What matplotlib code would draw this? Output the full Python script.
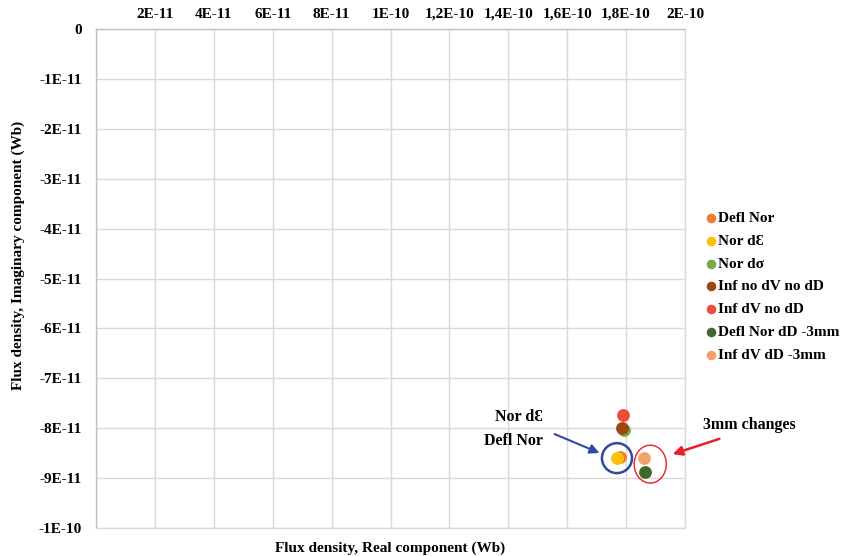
import matplotlib
matplotlib.use("Agg")
import matplotlib.pyplot as plt
from matplotlib.patches import Ellipse
import numpy as np

plt.rcParams['font.family'] = ['Liberation Serif', 'DejaVu Serif']
plt.rcParams['font.weight'] = 'bold'

# Series: name, real component (Wb), imaginary component (Wb), colour
series_names = ["Defl Nor", "Nor d\u0190", "Nor d\u03c3", "Inf no dV no dD",
                "Inf dV no dD", "Defl Nor dD -3mm", "Inf dV dD -3mm"]
real_vals = [1.780e-10, 1.769e-10, 1.793e-10, 1.786e-10, 1.790e-10, 1.865e-10, 1.861e-10]
imag_vals = [-8.58e-11, -8.60e-11, -8.04e-11, -8.00e-11, -7.74e-11, -8.88e-11, -8.60e-11]
colors = ["#ED7D31", "#FFC000", "#70AD47", "#9E480E", "#EE4B3A", "#43682B", "#F4A06A"]

x_ticks = np.arange(0, 2.01e-10, 2e-11)
x_tick_labels = ["", "2E-11", "4E-11", "6E-11", "8E-11", "1E-10",
                 "1,2E-10", "1,4E-10", "1,6E-10", "1,8E-10", "2E-10"]
y_ticks = np.arange(0, -1.01e-10, -1e-11)
y_tick_labels = ["0", "-1E-11", "-2E-11", "-3E-11", "-4E-11", "-5E-11",
                 "-6E-11", "-7E-11", "-8E-11", "-9E-11", "-1E-10"]

fig = plt.figure(figsize=(8.49, 5.56), dpi=100)
ax = fig.add_axes([96/849, 1-528/556, (685-96)/849, (528-29)/556])

for name, xv, yv, c in zip(series_names, real_vals, imag_vals, colors):
    ax.scatter([xv], [yv], s=85, color=c, label=name, zorder=3, linewidths=0)

ax.set_xlim(0, 2e-10)
ax.set_ylim(-1e-10, 0)
ax.set_xticks(x_ticks)
ax.set_xticklabels(x_tick_labels)
ax.set_yticks(y_ticks)
ax.set_yticklabels(y_tick_labels)
ax.xaxis.tick_top()
ax.tick_params(axis='both', length=0, labelsize=11)
ax.tick_params(axis='x', pad=6)
ax.tick_params(axis='y', pad=10)
ax.grid(True, color="#d9d9d9", linewidth=1)
ax.set_axisbelow(True)
for side in ["right", "bottom"]:
    ax.spines[side].set_color("#d9d9d9")
    ax.spines[side].set_linewidth(1)
for side in ["left", "top"]:
    ax.spines[side].set_color("#bfbfbf")
    ax.spines[side].set_linewidth(1)

ax.text(0.5, -0.04, "Flux density, Real component (Wb)", transform=ax.transAxes,
        ha="center", va="center", fontsize=11, fontweight="bold")
fig.text(18/849, 1-255/556, "Flux density, Imaginary component (Wb)", rotation=90,
         ha="center", va="center", fontsize=11, fontweight="bold")

# Highlight groups
ax.add_patch(Ellipse((1.769e-10, -8.60e-11), 1.02e-11, 6.0e-12, fill=False,
                     edgecolor="#2F4A9E", linewidth=1.8, zorder=4))
ax.add_patch(Ellipse((1.882e-10, -8.72e-11), 1.09e-11, 7.6e-12, fill=False,
                     edgecolor="#E8202A", linewidth=1.0, zorder=4))

ax.annotate("", xy=(602, 556-454), xycoords="figure pixels",
            xytext=(552, 556-433), textcoords="figure pixels",
            arrowprops=dict(arrowstyle="-|>", color="#2F4A9E", lw=1.5,
                            mutation_scale=14))
ax.annotate("", xy=(670, 556-455), xycoords="figure pixels",
            xytext=(722, 556-438), textcoords="figure pixels",
            arrowprops=dict(arrowstyle="-|>", color="#E8202A", lw=1.8,
                            mutation_scale=14))
fig.text(543/849, 1-417/556, "Nor d\u0190", ha="right", va="center", fontsize=11.5,
         fontweight="bold")
fig.text(543/849, 1-441/556, "Defl Nor", ha="right", va="center", fontsize=11.5,
         fontweight="bold")
fig.text(703/849, 1-425/556, "3mm changes", ha="left", va="center", fontsize=11.5,
         fontweight="bold")

leg = fig.legend(loc="upper left", bbox_to_anchor=(697/849, 1-205/556),
                 frameon=False, fontsize=11, handletextpad=0.0,
                 handlelength=1.0, labelspacing=0.6, markerscale=0.75,
                 borderaxespad=0)

fig.savefig("out.png", dpi=100)
